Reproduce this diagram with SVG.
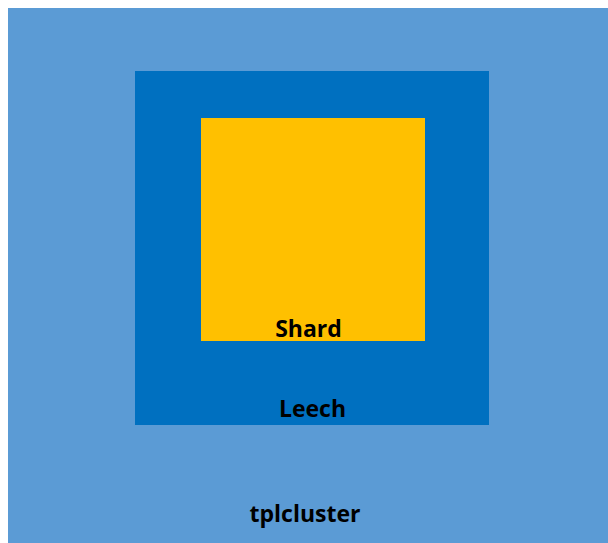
<svg xmlns="http://www.w3.org/2000/svg" width="608" height="543" viewBox="0 0 608 543">
<style>
.lbl{font-family:"Open Sans","Liberation Sans",sans-serif;font-weight:bold;font-size:23px;fill:#000;text-anchor:middle}
</style>
<rect width="608" height="543" fill="#fff"/>
<g id="tplcluster">
<rect x="8" y="8" width="600" height="535" fill="#5B9BD5"/>
<text class="lbl" x="305" y="522">tplcluster</text>
</g>
<g id="Leech">
<rect x="135" y="71" width="354" height="354" fill="#0070C0"/>
<text class="lbl" x="312.5" y="417">Leech</text>
</g>
<g id="Shard">
<rect x="201" y="118" width="224" height="223" fill="#FFC000"/>
<text class="lbl" x="308.5" y="337">Shard</text>
</g>
<g id="connectors"/>
</svg>
